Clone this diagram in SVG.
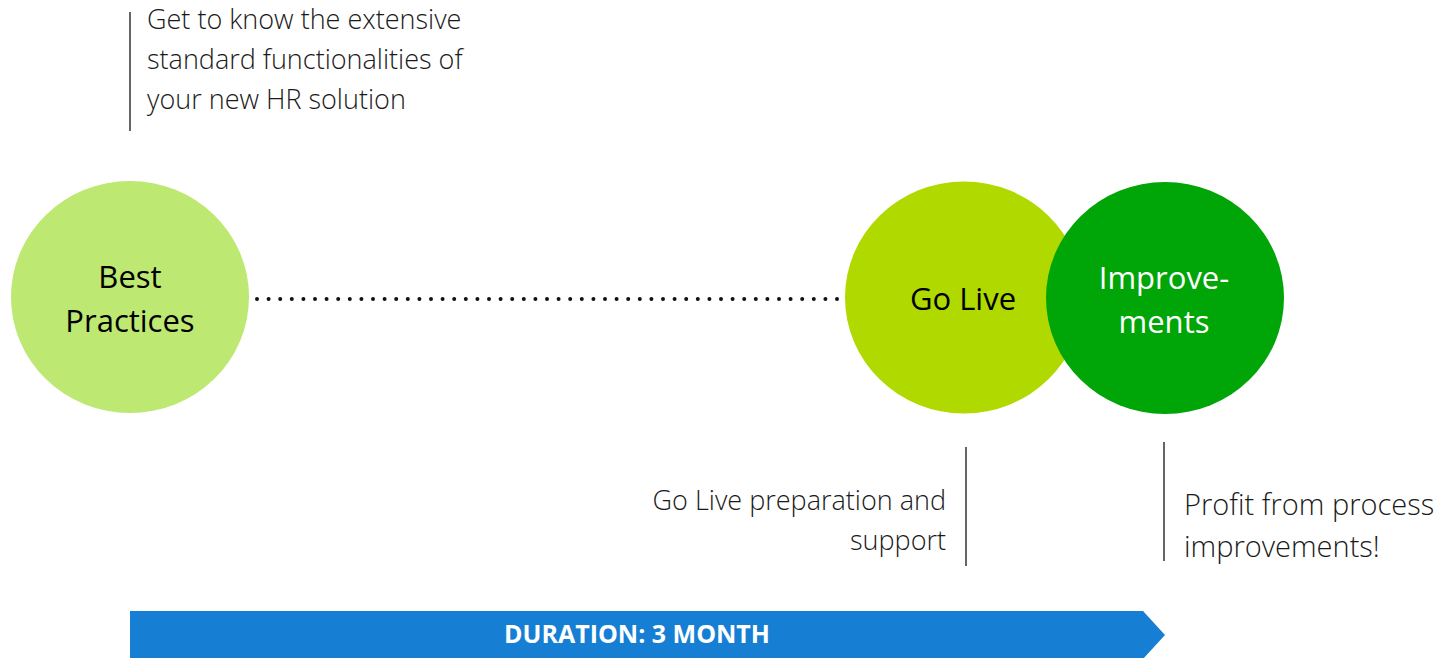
<svg xmlns="http://www.w3.org/2000/svg" width="1445" height="658" viewBox="0 0 1445 658">
<style>
.lbl{font-family:"Open Sans","Noto Sans","Liberation Sans",sans-serif;font-size:31px;text-anchor:middle}
.note{font-family:"Open Sans","Noto Sans","Liberation Sans",sans-serif;font-weight:300;font-size:27px;fill:#1a1a1a}
.vline{stroke:#333;stroke-width:1.5}
.bar{font-family:"Open Sans","Noto Sans","Liberation Sans",sans-serif;font-weight:700;font-size:25px;fill:#fff;text-anchor:middle}
</style>
<rect width="1445" height="658" fill="#fff"/>
<g id="connectors">
<line x1="257" y1="299" x2="840" y2="299" stroke="#111" stroke-width="4" stroke-linecap="round" stroke-dasharray="0 11.6"/>
</g>
<g id="best-practices">
<ellipse cx="130" cy="297" rx="119" ry="116" fill="#bde872"/>
<text class="lbl" x="130" y="288" fill="#000">Best</text>
<text class="lbl" x="130" y="332" fill="#000">Practices</text>
</g>
<g id="go-live">
<ellipse cx="964" cy="297.5" rx="119" ry="116" fill="#b0d900"/>
<text class="lbl" x="963" y="310" fill="#000">Go Live</text>
</g>
<g id="improvements">
<ellipse cx="1165" cy="298" rx="119" ry="116" fill="#00a508"/>
<text class="lbl" x="1164" y="289" fill="#fff">Improve-</text>
<text class="lbl" x="1164" y="333" fill="#fff">ments</text>
</g>
<g id="note-best">
<line class="vline" x1="130" y1="12" x2="130" y2="131"/>
<text class="note" x="147" y="29">Get to know the extensive</text>
<text class="note" x="147" y="69">standard functionalities of</text>
<text class="note" x="147" y="109">your new HR solution</text>
</g>
<g id="note-golive">
<line class="vline" x1="966" y1="447" x2="966" y2="566"/>
<text class="note" x="946" y="510" text-anchor="end">Go Live preparation and</text>
<text class="note" x="946" y="550" text-anchor="end">support</text>
</g>
<g id="note-improvements">
<line class="vline" x1="1164" y1="442" x2="1164" y2="561"/>
<text class="note" x="1184" y="515" style="font-size:29px">Profit from process</text>
<text class="note" x="1184" y="557" style="font-size:29px">improvements!</text>
</g>
<g id="duration">
<polygon points="130,611 1143,611 1165,635 1143,659 130,659" fill="#167fd4"/>
<text class="bar" x="637" y="643">DURATION: 3 MONTH</text>
</g>
</svg>
